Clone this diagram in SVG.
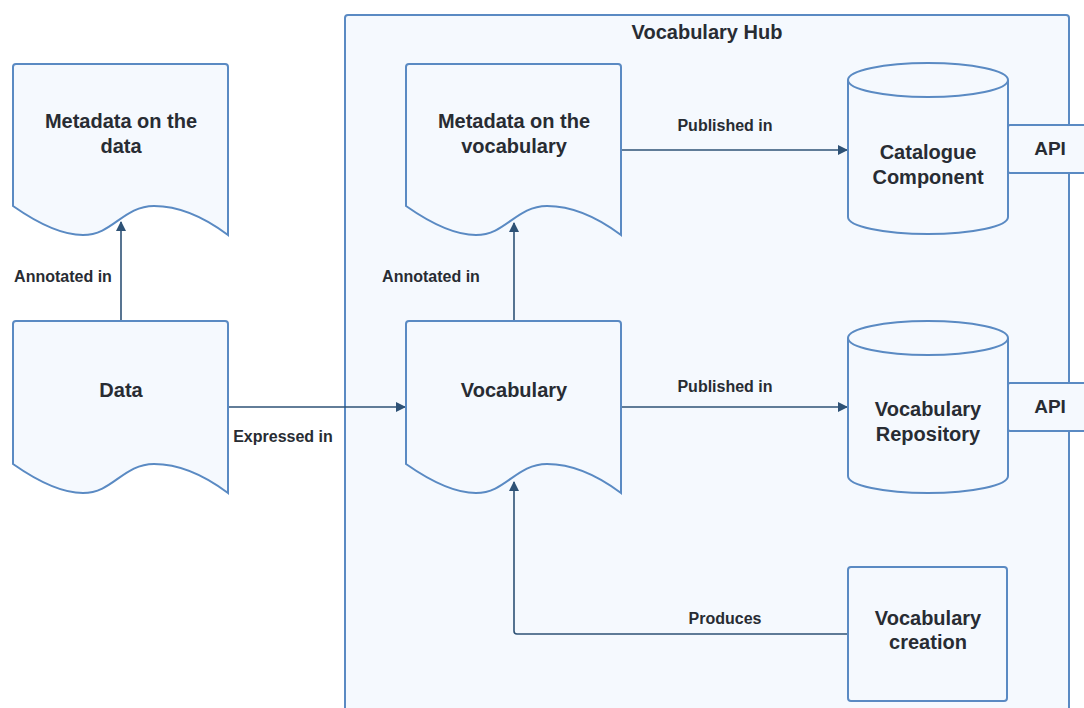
<svg xmlns="http://www.w3.org/2000/svg" width="1084" height="708" viewBox="0 0 1084 708">
<defs>
<style>
.shape{fill:#f5f9fe;stroke:#5a8ac3;stroke-width:2}
.conn{fill:none;stroke:#2e5276;stroke-width:1.6}
.node{font-family:"Liberation Sans",Arial,sans-serif;font-weight:bold;font-size:20px;fill:#282c33;text-anchor:middle;dominant-baseline:central}
.lbl{font-family:"Liberation Sans",Arial,sans-serif;font-weight:bold;font-size:16px;fill:#282c33;text-anchor:middle;dominant-baseline:central}
</style>
<marker id="arr" viewBox="0 0 10 10" refX="9" refY="5" markerWidth="10" markerHeight="10" markerUnits="userSpaceOnUse" orient="auto">
<path d="M0,0 L10,5 L0,10 Z" fill="#2e5276"/>
</marker>
</defs>
<rect width="1084" height="708" fill="#ffffff"/>
<g id="vocabulary-hub">
<rect class="shape" x="345" y="15" width="724" height="710" rx="3"/>
<text class="node" x="707" y="32">Vocabulary Hub</text>
</g>
<g id="connectors">
<line class="conn" x1="121" y1="321" x2="121" y2="222" marker-end="url(#arr)"/>
<line class="conn" x1="228" y1="407" x2="405" y2="407" marker-end="url(#arr)"/>
<line class="conn" x1="514" y1="321" x2="514" y2="223" marker-end="url(#arr)"/>
<line class="conn" x1="621" y1="150" x2="847" y2="150" marker-end="url(#arr)"/>
<line class="conn" x1="621" y1="407" x2="847" y2="407" marker-end="url(#arr)"/>
<path class="conn" d="M848,634 H517 Q514,634 514,631 V482" marker-end="url(#arr)"/>
<text class="lbl" x="63" y="276">Annotated in</text>
<text class="lbl" x="283" y="436">Expressed in</text>
<text class="lbl" x="431" y="276">Annotated in</text>
<text class="lbl" x="725" y="125">Published in</text>
<text class="lbl" x="725" y="386">Published in</text>
<text class="lbl" x="725" y="618">Produces</text>
</g>
<g id="metadata-data">
<path class="shape" d="M13,67 Q13,64 16,64 H225 Q228,64 228,67 V235 C208,220 183,206 154,206 C123,206 113,235 83,235 C58,235 33,220 13,206 Z"/>
<text class="node" x="121" y="121">Metadata on the</text>
<text class="node" x="121" y="146">data</text>
</g>
<g id="data">
<path class="shape" d="M13,324 Q13,321 16,321 H225 Q228,321 228,324 V493 C208,478 183,464 154,464 C123,464 113,493 83,493 C58,493 33,478 13,464 Z"/>
<text class="node" x="121" y="390">Data</text>
</g>
<g id="metadata-vocabulary">
<path class="shape" d="M406,67 Q406,64 409,64 H618 Q621,64 621,67 V235 C601,220 576,206 547,206 C516,206 506,235 476,235 C451,235 426,220 406,206 Z"/>
<text class="node" x="514" y="121">Metadata on the</text>
<text class="node" x="514" y="146">vocabulary</text>
</g>
<g id="vocabulary">
<path class="shape" d="M406,324 Q406,321 409,321 H618 Q621,321 621,324 V493 C601,478 576,464 547,464 C516,464 506,493 476,493 C451,493 426,478 406,464 Z"/>
<text class="node" x="514" y="390">Vocabulary</text>
</g>
<g id="catalogue-component">
<path class="shape" d="M848,80 V217 A80,17 0 0 0 1008,217 V80"/>
<ellipse class="shape" cx="928" cy="80" rx="80" ry="17"/>
<text class="node" x="928" y="152">Catalogue</text>
<text class="node" x="928" y="177">Component</text>
</g>
<g id="api-catalogue">
<rect class="shape" x="1008" y="125" width="100" height="48" rx="2"/>
<text class="node" x="1050" y="148" style="font-size:19px">API</text>
</g>
<g id="vocabulary-repository">
<path class="shape" d="M848,338 V476 A80,17 0 0 0 1008,476 V338"/>
<ellipse class="shape" cx="928" cy="338" rx="80" ry="17"/>
<text class="node" x="928" y="409">Vocabulary</text>
<text class="node" x="928" y="434">Repository</text>
</g>
<g id="api-repository">
<rect class="shape" x="1008" y="383" width="100" height="48" rx="2"/>
<text class="node" x="1050" y="406" style="font-size:19px">API</text>
</g>
<g id="vocabulary-creation">
<rect class="shape" x="848" y="567" width="159" height="134" rx="3"/>
<text class="node" x="928" y="618">Vocabulary</text>
<text class="node" x="928" y="642">creation</text>
</g>
</svg>
